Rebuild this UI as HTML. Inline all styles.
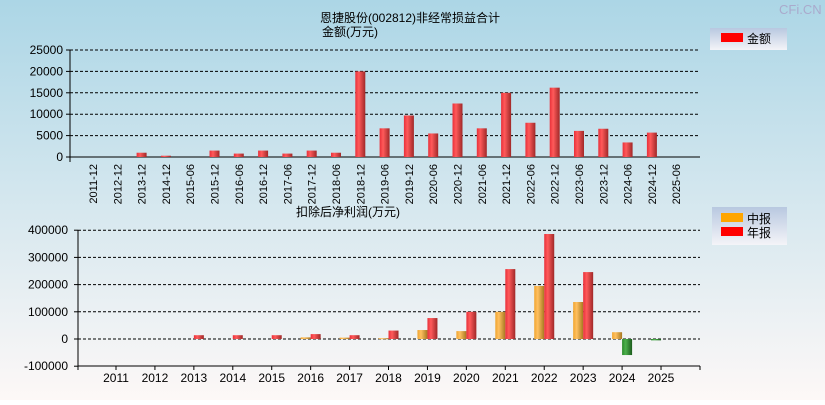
<!DOCTYPE html>
<html><head><meta charset="utf-8"><style>
body{margin:0;width:825px;height:400px;overflow:hidden;font-family:"Liberation Sans","Noto Sans CJK SC",sans-serif}
svg text{font-family:"Liberation Sans","Noto Sans CJK SC",sans-serif}
</style></head><body>
<svg id="c" width="825" height="400" xmlns="http://www.w3.org/2000/svg">
<defs>
<linearGradient id="bg" x1="0" y1="0" x2="0" y2="1"><stop offset="0" stop-color="#acd6e6"/><stop offset="1" stop-color="#fdf8f7"/></linearGradient>
<linearGradient id="red" x1="0" x2="1"><stop offset="0" stop-color="#e8303a"/><stop offset=".35" stop-color="#ff5a5a"/><stop offset="1" stop-color="#a02828"/></linearGradient>
<linearGradient id="org" x1="0" x2="1"><stop offset="0" stop-color="#f0a530"/><stop offset=".35" stop-color="#ffc060"/><stop offset="1" stop-color="#a87820"/></linearGradient>
<linearGradient id="grn" x1="0" x2="1"><stop offset="0" stop-color="#2a8a2a"/><stop offset=".35" stop-color="#4cb04c"/><stop offset="1" stop-color="#1c5c1c"/></linearGradient>
<linearGradient id="lg" x1="0" y1="0" x2="0" y2="1"><stop offset="0" stop-color="#b8c8e0"/><stop offset="1" stop-color="#f4f4f8"/></linearGradient>
</defs>
<rect width="825" height="400" fill="url(#bg)"/>
<text x="779" y="14" font-size="13" fill="#aac">CFi.CN</text>
<text x="410" y="22" font-size="12" text-anchor="middle">恩捷股份(002812)非经常损益合计</text>
<text x="350" y="36" font-size="12" text-anchor="middle">金额(万元)</text>
<text x="348" y="216" font-size="12" text-anchor="middle">扣除后净利润(万元)</text>
<g><rect x="710" y="28" width="77" height="22" fill="url(#lg)"/><rect x="721" y="33" width="22" height="9" fill="#f00"/><text x="747" y="43" font-size="12">金额</text></g>
<g><rect x="712" y="207" width="75" height="38" fill="url(#lg)"/><rect x="721" y="213" width="22" height="9" fill="#ffa500"/><text x="747" y="223" font-size="12">中报</text><rect x="721" y="227" width="22" height="9" fill="#f00"/><text x="747" y="237" font-size="12">年报</text></g>
<g id="top"></g><g id="bot"></g>
</svg>
<script>
const topCats=["2011-12","2012-12","2013-12","2014-12","2015-06","2015-12","2016-06","2016-12","2017-06","2017-12","2018-06","2018-12","2019-06","2019-12","2020-06","2020-12","2021-06","2021-12","2022-06","2022-12","2023-06","2023-12","2024-06","2024-12","2025-06"];
const topVals=[0,0,1000,300,0,1500,800,1500,800,1500,1000,20000,6700,9700,5500,12500,6700,15000,8000,16200,6100,6600,3400,5700,0];
const topTicks=[0,5000,10000,15000,20000,25000];
const years=["2011","2012","2013","2014","2015","2016","2017","2018","2019","2020","2021","2022","2023","2024","2025"];
const midVals=[0,0,0,0,0,6000,5000,3000,33000,29000,100000,195000,136000,25000,-5000];
const annVals=[0,0,14000,14000,14000,18000,14000,31000,77000,100000,257000,386000,246000,-59000,null];
const botTicks=[-100000,0,100000,200000,300000,400000];
const NS="http://www.w3.org/2000/svg";
function mk(p,t,a){const e=document.createElementNS(NS,t);for(const k in a)e.setAttribute(k,a[k]);p.appendChild(e);return e;}
const T=document.getElementById('top');
const ty=v=>157-v*(107/25000), tx=i=>93+i*24.3;
topTicks.forEach(v=>{const y=ty(v);
 if(v>0){const l=mk(T,'line',{x1:70,x2:700,y1:y,y2:y,stroke:'#000','stroke-dasharray':'3,2'});}
 mk(T,'line',{x1:66,x2:70,y1:y,y2:y,stroke:'#000'});
 const t=mk(T,'text',{x:63,y:y+4,'font-size':12,'text-anchor':'end'});t.textContent=v;
 });
mk(T,'line',{x1:70,x2:70,y1:50,y2:162,stroke:'#000'});
mk(T,'line',{x1:66,x2:700,y1:157,y2:157,stroke:'#000'});
topCats.forEach((c,i)=>{const x=tx(i),v=topVals[i];
 if(v>0){const r=mk(T,'rect',{x:x-5,y:ty(v),width:10,height:157-ty(v),fill:'url(#red)'});
  }
 const t=mk(T,'text',{x:0,y:0,'font-size':11,'text-anchor':'end',transform:`translate(${x+4},164) rotate(-90)`});t.textContent=c;
 });
const B=document.getElementById('bot');
const by=v=>339-v*(27.2/100000), bx=i=>116+i*38.93;
botTicks.forEach(v=>{const y=by(v);
 if(v>-100000){const l=mk(B,'line',{x1:78,x2:700,y1:y,y2:y,stroke:'#000','stroke-dasharray':'3,2'});}
 mk(B,'line',{x1:74,x2:78,y1:y,y2:y,stroke:'#000'});
 const t=mk(B,'text',{x:68,y:y+4,'font-size':12,'text-anchor':'end'});t.textContent=v;
 });
mk(B,'line',{x1:78,x2:78,y1:230,y2:366,stroke:'#000'});
mk(B,'line',{x1:78,x2:700,y1:366,y2:366,stroke:'#000'});
mk(B,'line',{x1:700,x2:700,y1:366,y2:370,stroke:'#000'});
mk(B,'line',{x1:78,x2:78,y1:366,y2:370,stroke:'#000'});
function bar(v,x,fill,name){if(v===null||v===0)return;const y0=by(0),y1=by(v);
 const r=mk(B,'rect',{x:x,y:Math.min(y0,y1),width:10,height:Math.max(1,Math.abs(y1-y0)),fill:fill});
 }
years.forEach((yr,i)=>{const x=bx(i);
 mk(B,'line',{x1:x,x2:x,y1:366,y2:370,stroke:'#000'});
 bar(midVals[i],x-10,midVals[i]<0?'url(#grn)':'url(#org)','bottom-bar-mid-'+yr);
 bar(annVals[i],x,annVals[i]<0?'url(#grn)':'url(#red)','bottom-bar-annual-'+yr);
 const t=mk(B,'text',{x:x,y:382,'font-size':12,'text-anchor':'middle'});t.textContent=yr;
 });
</script>
</body></html>
